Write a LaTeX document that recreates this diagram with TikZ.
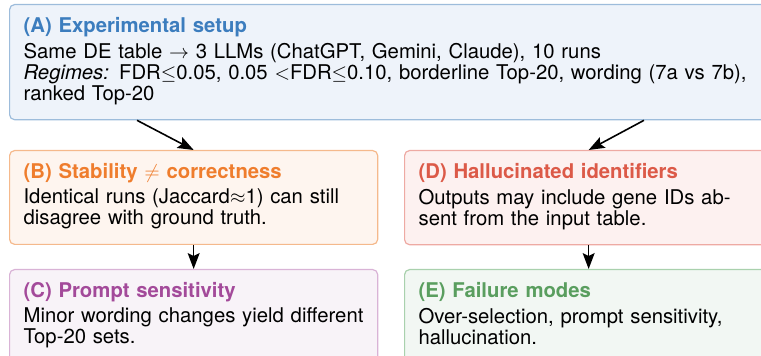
\documentclass[tikz,border=0pt]{standalone}
\usepackage{fontspec}
\setmainfont{TeX Gyre Heros}
\usetikzlibrary{arrows.meta}
\definecolor{Abd}{HTML}{9DBCDB}
\definecolor{Afl}{HTML}{EEF3FA}
\definecolor{Atx}{HTML}{3C7DBE}
\definecolor{Bbd}{HTML}{F5B98C}
\definecolor{Bfl}{HTML}{FEF5EF}
\definecolor{Btx}{HTML}{EF7D2D}
\definecolor{Cbd}{HTML}{D9B3D6}
\definecolor{Cfl}{HTML}{F8F3F8}
\definecolor{Ctx}{HTML}{A34A9A}
\definecolor{Dbd}{HTML}{EEAAA3}
\definecolor{Dfl}{HTML}{FDF1F0}
\definecolor{Dtx}{HTML}{DC5A48}
\definecolor{Ebd}{HTML}{A9D1AD}
\definecolor{Efl}{HTML}{F2F7F3}
\definecolor{Etx}{HTML}{5A9E5F}
\begin{document}
\begin{tikzpicture}[x=0.5025pt,y=-0.5025pt,
  box/.style={draw, line width=0.6pt, rounded corners=2.5pt, anchor=north west,
    align=left, inner xsep=7.04pt, inner ysep=6.6pt,
    font=\fontsize{10.2pt}{10.55pt}\selectfont, text width=170.9pt},
  arr/.style={-{Stealth[length=8pt,width=6pt,inset=1.5pt]}, line width=0.8pt}]
\useasboundingbox (0,0) rectangle (761,356);
\clip (0,0) rectangle (761,356);
\node[box, draw=Abd, fill=Afl, text width=369.3pt] (A) at (9,4)
  {\strut\textcolor{Atx}{\bfseries (A) Experimental setup}\\[1pt]
   Same DE table $\rightarrow$ 3 LLMs (ChatGPT, Gemini, Claude), 10 runs\\
   \textit{Regimes:} FDR$\leq$0.05, 0.05 $<$FDR$\leq$0.10, borderline Top-20, wording (7a vs 7b),\\
   ranked Top-20\strut};
\node[box, draw=Bbd, fill=Bfl] (B) at (9,150)
  {\strut\textcolor{Btx}{\bfseries (B) Stability $\neq$ correctness}\\[1pt]
   Identical runs (Jaccard$\approx$1) can still\\
   disagree with ground truth.\strut};
\node[box, draw=Cbd, fill=Cfl] (C) at (9,269)
  {\strut\textcolor{Ctx}{\bfseries (C) Prompt sensitivity}\\[1pt]
   Minor wording changes yield different\\
   Top-20 sets.\strut};
\node[box, draw=Dbd, fill=Dfl] (D) at (404,150)
  {\strut\textcolor{Dtx}{\bfseries (D) Hallucinated identifiers}\\[1pt]
   Outputs may include gene IDs ab-\\
   sent from the input table.\strut};
\node[box, draw=Ebd, fill=Efl] (E) at (404,269)
  {\strut\textcolor{Etx}{\bfseries (E) Failure modes}\\[1pt]
   Over-selection, prompt sensitivity,\\
   hallucination.\strut};
\draw[arr] (137,0 |- A.south) -- (B.north);
\draw[arr] (644,0 |- A.south) -- (D.north);
\draw[arr] (B.south) -- (C.north);
\draw[arr] (D.south) -- (E.north);
\end{tikzpicture}
\end{document}
